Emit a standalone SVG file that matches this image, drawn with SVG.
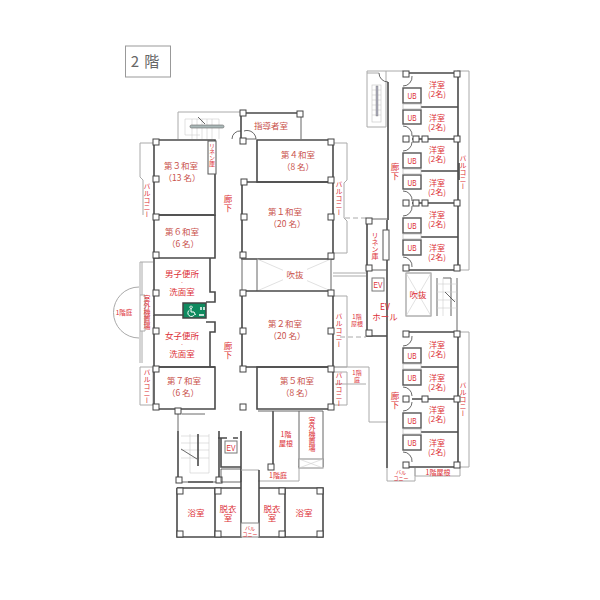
<svg xmlns="http://www.w3.org/2000/svg" width="600" height="600" viewBox="0 0 600 600">
<style>
text{font-family:"Noto Sans CJK JP","Liberation Sans",sans-serif;text-anchor:middle;fill:#dc2f36;font-size:8.5px}
.s{fill:#c9524c}
.v{writing-mode:vertical-rl;text-anchor:start}
.r{font-size:8px}
.u{font-size:9.5px;font-family:"Liberation Sans",sans-serif}
.w{fill:none;stroke:#4a4a4a;stroke-width:1.6}
.m{fill:none;stroke:#666;stroke-width:1}
.t{fill:none;stroke:#aaa;stroke-width:1}
.l{fill:none;stroke:#ccc;stroke-width:.6}
.b{fill:#fff;stroke:#555;stroke-width:1.4}
.d{fill:none;stroke:#aaa;stroke-width:1;stroke-dasharray:5 3}
.a{fill:none;stroke:#444;stroke-width:.8}
.x{font-size:7px}
.y{font-size:6px}
.z{font-size:5px}
.o{font-size:4px}
</style>
<defs>
<rect id="p" x="-3" y="-3" width="6" height="6" fill="#fff" stroke="#444" stroke-width="1"/>
</defs>
<rect width="600" height="600" fill="#fff"/>
<g id="title"><rect x="125.500" y="46" width="45" height="31" fill="#fff" stroke="#999"/><text x="145" y="67" style="fill:#666;font-size:15px;word-spacing:2px">2 階</text></g>

<g id="outdoor">
<path class="t" d="M153 143H140V177L143 180V215M153 262H140V295M142 262V295M140 331V363M142 331V363M140 367H153V405H140V367"/>
<path class="t" d="M333 143H347V180L344 183V218L347 221V253H333"/>
<path class="t" d="M333 296H347V367H333M333 372H347V405H333"/>
<path class="t" d="M333 273H366M333 276H366"/>
<path class="d" d="M345 218H366M340 337H366"/>
<path class="t" d="M333 367H369V422H388M335 384H366" />
<path class="t" d="M139 287A25 25 0 0 0 139 338"/>
<path class="t" d="M140 295H145V331H140Z"/>
<path class="t" d="M298 467H323M258 481H299V467"/>
<path class="t" d="M415 468V476H460V468"/>
<path class="t" d="M387 468V481H415V468"/>
<path class="t" d="M457 71H469V270H457M457 332H469V467H457"/>
<path class="t" d="M367 71H403M367 73H379"/>
</g>

<g id="stair-top"><path class="t" d="M178 139V112H241"/>
<path class="l" d="M185 119H219V139M185 119V135M192 119V139M197 119V139M202 119V139M207 119V139M212 119V139M185 135H200"/>
<rect x="190" y="125" width="34" height="3" rx="1.500" fill="#aab8b8" stroke="#666" stroke-width=".6"/>
<path class="a" d="M198 117L205 124"/></g>

<g id="room-shidou"><path class="w" d="M241 113H301M241 113V139"/><path class="m" d="M301 113V139"/>
<path class="a" d="M232 139A8 8 0 0 1 241 131M244 139H256M244 131A9 9 0 0 1 256 139"/>
<use href="#p" x="243" y="113"/><use href="#p" x="300" y="114"/><use href="#p" x="243" y="141"/>
<text class="s" x="271" y="129">指導者室</text></g>

<g id="room-4"><path class="w" d="M257 140H333V182H257Z"/><text class="s" x="298" y="158">第４和室<tspan x="298" dy="12">（8 名）</tspan></text></g>
<g id="room-1"><path class="w" d="M242 182H333V259H242Z"/><text class="s" x="285" y="215">第１和室<tspan x="287" dy="11.500">（20 名）</tspan></text></g>
<g id="fukinuke"><path class="m" d="M257 259V291M331 259V291"/><path class="l" d="M257 259L331 291M331 259L257 291"/><rect x="283" y="268" width="24" height="14" fill="#fff"/><text class="s" x="295" y="278">吹抜</text></g>
<g id="room-2"><path class="w" d="M242 291H333V367H242Z"/><text class="s" x="285" y="327">第２和室<tspan x="287" dy="12">（20 名）</tspan></text></g>
<g id="room-5"><path class="w" d="M257 367H333V409H257Z"/><text class="s" x="297" y="384">第５和室<tspan x="297" dy="12">（8 名）</tspan></text></g>

<g id="room-3"><path class="w" d="M154 140H215V215H154Z"/><text class="s" x="181" y="169">第３和室<tspan x="182" dy="12">（13 名）</tspan></text></g>
<g id="linen-1"><rect x="208" y="141" width="8" height="33" fill="#fff" stroke="#555"/><text class="v y" x="212" y="143">リネン庫</text></g>
<g id="room-6"><path class="w" d="M154 215H215V258H154Z"/><text class="s" x="182" y="235">第６和室<tspan x="183" dy="11.500">（6 名）</tspan></text></g>
<g id="wc-m"><path class="w" d="M154 258V315H183M210 258V292H215V302H206"/><text x="182" y="277">男子便所</text><text class="o" x="182" y="285">・</text><text x="182" y="295">洗面室</text></g>
<g id="wc-sign"><rect x="183" y="303" width="23" height="15" fill="#0f8a5f" stroke="#444" stroke-width="1.500"/><path d="M191 306a1.200 1.200 0 1 0 .1 0M191 308v4h3l1.500 3M189.500 310a3.500 3.500 0 1 0 5 4.500" fill="none" stroke="#fff"/><path d="M201 307v3M204 307v3M199 315h5" stroke="#fff" stroke-width="1.500"/></g>
<g id="wc-f"><path class="w" d="M154 315V367H215M206 322H215V332H210V367"/><text x="182" y="339">女子便所</text><text class="o" x="182" y="347">・</text><text x="182" y="357">洗面室</text></g>
<g id="room-7"><path class="w" d="M154 367H215V409H154Z"/><text class="s" x="184" y="384">第７和室<tspan x="183" dy="12">（6 名）</tspan></text></g>
<g id="corridor-main"><path class="m" d="M215 174V215M242 182V367"/><text class="v" x="228" y="195">廊下</text><text class="v" x="228" y="342">廊下</text></g>

<g id="balc-labels">
<text class="v x" x="147" y="183">バルコニー</text>
<text class="v x" x="339" y="181">バルコニー</text>
<text class="v x" x="339" y="313">バルコニー</text>
<text class="v x" x="339" y="372">バルコニー</text>
<text class="v x" x="147" y="369">バルコニー</text>
<text class="v x" x="147" y="295">室外機置場</text>
<text x="124" y="315" style="font-size:6.500px">1階庭</text>
<text class="y" x="357" y="319">1階<tspan x="357" dy="7">屋根</tspan></text>
<text class="y" x="357" y="374.500">1階<tspan x="357" dy="7">庭</tspan></text>
</g>

<g id="stairs-s"><path class="w" d="M178 431V482M219 431V482M188 482H213"/><path class="m" d="M178 482H220"/><path class="a" d="M178 414V431M182 414H205"/>
<path class="l" d="M181 436H209M181 443H209M181 450H209M181 458H209M190 434V473H209V434"/>
<path class="w" d="M198 434V466"/><path class="a" d="M181 449L197 459"/>
<use href="#p" x="178" y="411"/><use href="#p" x="179" y="480"/><use href="#p" x="219" y="480"/></g>
<g id="ev-s"><path class="w" d="M221 438V467H241M241 431V482M218 438H227M233 438H238"/><path class="a" d="M221 469V482H241V469H221"/><path class="t" d="M241 470H259"/><rect x="225" y="441" width="12" height="12" fill="#fff" stroke="#777"/><text class="u" x="231" y="450.500" textLength="9" lengthAdjust="spacingAndGlyphs">EV</text></g>
<g id="roof-s"><path class="w" d="M273 411V467"/><path class="m" d="M258 411H323V467M299 411V467"/><use href="#p" x="271" y="467"/><text class="x" x="286" y="437">1階<tspan x="286" dy="9">屋根</tspan></text><text class="v x" x="312" y="417">室外機置場</text><rect x="299" y="459" width="24" height="9" fill="#fff" stroke="#888"/><path class="l" d="M299 459L323 468M323 459L299 468"/><text class="x" x="278" y="478">1階庭</text></g>
<g id="bath-w"><path class="w" d="M177 488V537H241V482M177 488H241M215 488V537"/><use href="#p" x="180" y="491"/><use href="#p" x="218" y="491"/><use href="#p" x="180" y="534"/><use href="#p" x="218" y="534"/><text x="196" y="516">浴室</text><text x="228" y="511.500">脱衣<tspan x="228" dy="9">室</tspan></text></g>
<g id="bath-e"><path class="w" d="M259 470V537H323V488H259M285 488V537"/><use href="#p" x="282" y="491"/><use href="#p" x="320" y="491"/><use href="#p" x="282" y="534"/><use href="#p" x="320" y="534"/><text x="304" y="516">浴室</text><text x="272" y="511.500">脱衣<tspan x="272" dy="9">室</tspan></text></g>
<g id="balc-bath"><rect x="241" y="523" width="18" height="14" fill="#fff" stroke="#888"/><text class="z" x="250" y="529.500">バル<tspan x="250" dy="6">コニー</tspan></text></g>

<g id="east-walls"><path class="t" d="M367 71V127H386V71"/><rect x="372" y="85" width="9" height="37" fill="#fff" stroke="#ccc" stroke-width=".7"/><path class="l" d="M372 90H381M372 95H381M372 100H381M372 105H381M372 110H381M372 115H381"/><rect x="376" y="86" width="2" height="30" fill="#aab" stroke="#777" stroke-width=".4"/><path class="w" d="M388 82V220"/><path class="w" d="M387 220V468"/><path class="w" d="M367 219V336H387"/><path class="a" d="M379 73A9 9 0 0 0 388 82"/></g>
<g id="linen-2"><path class="m" d="M367 219H389M367 270H387"/><rect x="383" y="230" width="6" height="30" fill="#fff" stroke="#555"/><text class="v x" x="375" y="232">リネン庫</text></g>
<g id="ev-e"><rect x="372" y="278" width="12" height="13" fill="#fff" stroke="#777"/><text class="u" x="378" y="288" textLength="9" lengthAdjust="spacingAndGlyphs">EV</text><text x="385" y="310">EV<tspan x="385" dy="9.500">ホール</tspan></text></g>
<g id="hall-north"><rect x="406" y="273" width="25" height="43" fill="#fff" stroke="#888"/><path class="l" d="M406 273L431 316M431 273L406 316"/><text x="418" y="298">吹抜</text><path class="m" d="M437 278V316M457 278V332M443 278H451V316"/><path class="l" d="M437 284H457M437 292H457M437 300H457M437 308H457M443 278V316"/><path class="a" d="M445 292L455 302"/></g>

<g id="wing-n"><path class="w" d="M403 73H458V270H403M421 107H458M412 139H458M421 171H458M412 203H458M421 237H458"/>
<g class="b"><rect x="403" y="88" width="18" height="15"/><rect x="403" y="110" width="18" height="14"/><rect x="403" y="153" width="18" height="15"/><rect x="403" y="175" width="18" height="14"/><rect x="403" y="218" width="18" height="15"/><rect x="403" y="240" width="18" height="15"/></g>
<rect x="403" y="104" width="18" height="5" fill="#fff" stroke="#aaa" stroke-width=".6"/><rect x="403" y="169" width="18" height="5" fill="#fff" stroke="#aaa" stroke-width=".6"/><rect x="403" y="234" width="18" height="5" fill="#fff" stroke="#aaa" stroke-width=".6"/>
<path class="a" d="M403 86A9 9 0 0 0 412 76M403 126A9 9 0 0 1 412 136M403 151A9 9 0 0 0 412 142M403 191A9 9 0 0 1 412 201M403 216A9 9 0 0 0 412 206M403 257A9 9 0 0 1 412 267"/>
<use href="#p" x="406" y="74"/><use href="#p" x="457" y="74"/><use href="#p" x="406" y="139"/><use href="#p" x="457" y="139"/><use href="#p" x="406" y="203"/><use href="#p" x="457" y="203"/><use href="#p" x="406" y="268"/><use href="#p" x="457" y="268"/><use href="#p" x="416" y="139"/><use href="#p" x="425" y="139"/><use href="#p" x="416" y="203"/><use href="#p" x="425" y="203"/>
<path class="w" d="M459 163V180"/>
<text class="u" x="412" y="99" textLength="9" lengthAdjust="spacingAndGlyphs">UB</text><text class="u" x="412" y="120.500" textLength="9" lengthAdjust="spacingAndGlyphs">UB</text><text class="u" x="412" y="164" textLength="9" lengthAdjust="spacingAndGlyphs">UB</text><text class="u" x="412" y="185.500" textLength="9" lengthAdjust="spacingAndGlyphs">UB</text><text class="u" x="412" y="229" textLength="9" lengthAdjust="spacingAndGlyphs">UB</text><text class="u" x="412" y="251" textLength="9" lengthAdjust="spacingAndGlyphs">UB</text>
<text class="r" x="437" y="88">洋室<tspan x="437" dy="8.500">(2名)</tspan></text><text class="r" x="437" y="121">洋室<tspan x="437" dy="9">(2名)</tspan></text><text class="r" x="437" y="153">洋室<tspan x="437" dy="8.500">(2名)</tspan></text><text class="r" x="437" y="186">洋室<tspan x="437" dy="9">(2名)</tspan></text><text class="r" x="437" y="218">洋室<tspan x="437" dy="8.500">(2名)</tspan></text><text class="r" x="437" y="251">洋室<tspan x="437" dy="9">(2名)</tspan></text>
<text class="v x" x="463" y="155">バルコニー</text><text class="v" x="395" y="163">廊下</text></g>

<g id="wing-s"><path class="w" d="M403 332H458V467H403M421 367H458M412 399H458M421 432H458"/>
<g class="b"><rect x="403" y="348" width="18" height="15"/><rect x="403" y="370" width="18" height="15"/><rect x="403" y="413" width="18" height="15"/><rect x="403" y="435" width="18" height="15"/></g>
<rect x="403" y="364" width="18" height="5" fill="#fff" stroke="#aaa" stroke-width=".6"/><rect x="403" y="429" width="18" height="5" fill="#fff" stroke="#aaa" stroke-width=".6"/>
<path class="a" d="M403 346A9 9 0 0 0 412 336M403 387A9 9 0 0 1 412 396M403 411A9 9 0 0 0 412 402M403 452A9 9 0 0 1 412 462"/>
<use href="#p" x="406" y="334"/><use href="#p" x="457" y="334"/><use href="#p" x="406" y="399"/><use href="#p" x="457" y="399"/><use href="#p" x="406" y="465"/><use href="#p" x="457" y="465"/><use href="#p" x="425" y="399"/>
<text class="u" x="412" y="359" textLength="9" lengthAdjust="spacingAndGlyphs">UB</text><text class="u" x="412" y="381" textLength="9" lengthAdjust="spacingAndGlyphs">UB</text><text class="u" x="412" y="424" textLength="9" lengthAdjust="spacingAndGlyphs">UB</text><text class="u" x="412" y="446" textLength="9" lengthAdjust="spacingAndGlyphs">UB</text>
<text class="r" x="437" y="348">洋室<tspan x="437" dy="9">(2名)</tspan></text><text class="r" x="437" y="381">洋室<tspan x="437" dy="9">(2名)</tspan></text><text class="r" x="437" y="413">洋室<tspan x="437" dy="9">(2名)</tspan></text><text class="r" x="437" y="446">洋室<tspan x="437" dy="9">(2名)</tspan></text>
<text class="v x" x="463" y="382">バルコニー</text><text class="v" x="395" y="392">廊下</text>
<text class="z" x="401" y="474">バル<tspan x="401" dy="6">コニー</tspan></text>
<text class="x" x="438" y="475">1階屋根</text></g>

<g id="pillars-main">
<use href="#p" x="156" y="142"/><use href="#p" x="331" y="142"/><use href="#p" x="244" y="182"/><use href="#p" x="331" y="180"/><use href="#p" x="156" y="179"/><use href="#p" x="156" y="217"/><use href="#p" x="156" y="255"/><use href="#p" x="244" y="217"/><use href="#p" x="331" y="217"/><use href="#p" x="243" y="255"/><use href="#p" x="331" y="256"/><use href="#p" x="156" y="293"/><use href="#p" x="156" y="331"/><use href="#p" x="156" y="369"/><use href="#p" x="156" y="407"/><use href="#p" x="243" y="293"/><use href="#p" x="331" y="293"/><use href="#p" x="243" y="331"/><use href="#p" x="331" y="331"/><use href="#p" x="243" y="369"/><use href="#p" x="331" y="369"/><use href="#p" x="243" y="407"/><use href="#p" x="331" y="407"/><use href="#p" x="369" y="221"/><use href="#p" x="369" y="268"/><use href="#p" x="369" y="333"/>
</g>
</svg>
